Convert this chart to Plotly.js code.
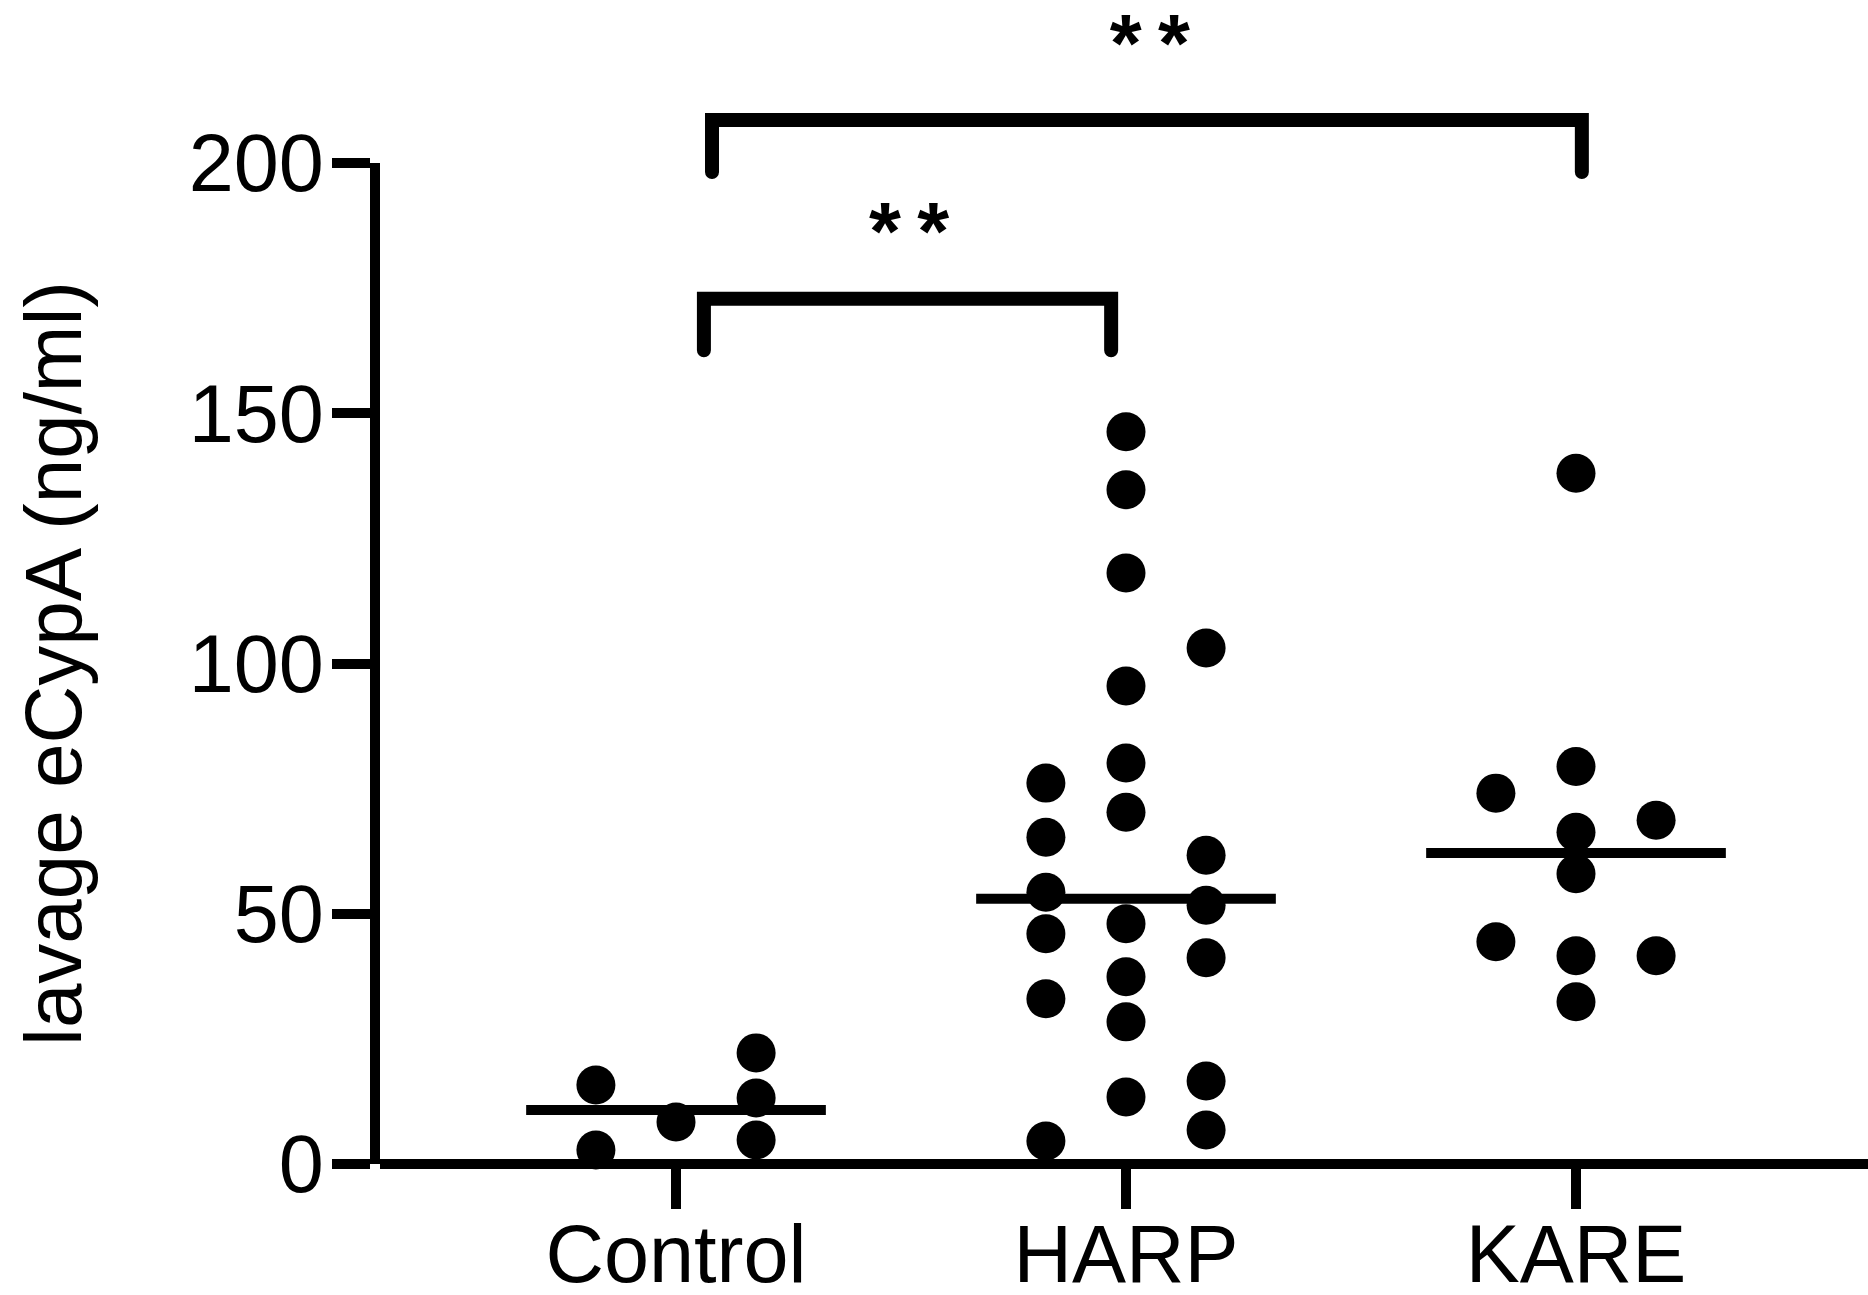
<!DOCTYPE html>
<html>
<head>
<meta charset="utf-8">
<script src="https://cdn.plot.ly/plotly-3.0.1.min.js"></script>
<style>
  html, body { margin: 0; padding: 0; background: #fff; }
  #chart { width: 1868px; height: 1295px; }
  .subplot.xy2 .scatterlayer .js-line { stroke-linecap: round; stroke-linejoin: miter; }
</style>
</head>
<body>
<div id="chart"></div>
<script>
// ---------------- data ----------------
const categories = ['Control', 'HARP', 'KARE'];

const controlValues = [15.8, 2.8, 8.4, 22.2, 13.2, 4.8];
const harpValues = [76.1, 65.3, 54.3, 46.0, 33.0, 4.6,
                    146.3, 134.7, 118.1, 95.5, 80.1, 70.3, 48.0, 37.4, 28.4, 13.4,
                    103.1, 61.7, 51.7, 41.2, 16.6, 6.8];
const kareValues = [74.1, 44.4, 138.0, 79.4, 66.3, 58.0, 41.6, 32.4, 68.7, 41.6];

// beeswarm column of each point (-1 left, 0 centre, 1 right)
const controlColumn = [-1, -1, 0, 1, 1, 1];
const harpColumn = [-1, -1, -1, -1, -1, -1, 0, 0, 0, 0, 0, 0, 0, 0, 0, 0, 1, 1, 1, 1, 1, 1];
const kareColumn = [-1, -1, 0, 0, 0, 0, 0, 0, 1, 1];

const yTickValues = [0, 50, 100, 150, 200];
const yTickLabels = ['0', '50', '100', '150', '200'];

// significance comparisons (group index pairs)
const comparisonFrom = [0, 0];
const comparisonTo = [1, 2];
const comparisonLabels = ['*\u2009*', '*\u2009*'];

// ---------------- layout / style constants ----------------
const FONT = 'Liberation Sans, Arial, sans-serif';
const COLUMN_STEP = 0.178;   // horizontal spacing of swarm columns (x units)
const MEDIAN_HALF = 0.333;   // half width of median bar
// bracket geometry per comparison
const bracketGeom = [
  {dl: 0.062, dr: -0.033, top: 172.9, bottom: 162.6, labelY: 185.0, labelX: 0.518},
  {dl: 0.080, dr: 0.013, top: 208.6, bottom: 198.2, labelY: 222.4, labelX: 1.053}
];

function median(a) {
  const s = a.slice().sort((p, q) => p - q);
  const n = s.length;
  return n % 2 ? s[(n - 1) / 2] : (s[n / 2 - 1] + s[n / 2]) / 2;
}

const groups = [
  {values: controlValues, column: controlColumn},
  {values: harpValues, column: harpColumn},
  {values: kareValues, column: kareColumn}
];

const traces = [];
groups.forEach((g, i) => {
  traces.push({
    type: 'scatter', mode: 'markers',
    x: g.column.map(c => i + c * COLUMN_STEP),
    y: g.values,
    marker: {size: 39, color: '#000', line: {width: 0}},
    cliponaxis: false, showlegend: false, hoverinfo: 'skip',
    xaxis: 'x', yaxis: 'y'
  });
});
groups.forEach((g, i) => {
  const m = median(g.values);
  traces.push({
    type: 'scatter', mode: 'lines',
    x: [i - MEDIAN_HALF, i + MEDIAN_HALF],
    y: [m, m],
    line: {color: '#000', width: 10},
    cliponaxis: false, showlegend: false, hoverinfo: 'skip',
    xaxis: 'x', yaxis: 'y'
  });
});
comparisonFrom.forEach((a, k) => {
  const b = comparisonTo[k];
  const g = bracketGeom[k];
  traces.push({
    type: 'scatter', mode: 'lines',
    x: [a + g.dl, a + g.dl, b + g.dr, b + g.dr],
    y: [g.bottom, g.top, g.top, g.bottom],
    line: {color: '#000', width: 14},
    cliponaxis: false, showlegend: false, hoverinfo: 'skip',
    xaxis: 'x', yaxis: 'y2'
  });
  traces.push({
    type: 'scatter', mode: 'text',
    x: [g.labelX], y: [g.labelY],
    text: [comparisonLabels[k]],
    textposition: 'middle center',
    textfont: {family: FONT, size: 82, color: '#000', weight: 'bold'},
    cliponaxis: false, showlegend: false, hoverinfo: 'skip',
    xaxis: 'x', yaxis: 'y2'
  });
});

const H = 1295;
const Y0PX = 1164, Y200PX = 163;
const pxPerUnit = (Y0PX - Y200PX) / 200;

const layout = {
  width: 1868, height: 1295,
  margin: {l: 380, r: 0, t: 0, b: 0, pad: 0},
  paper_bgcolor: '#fff', plot_bgcolor: 'rgba(0,0,0,0)',
  font: {family: FONT, color: '#000', size: 81},
  showlegend: false,
  xaxis: {
    range: [-0.6578, 2.6489],
    anchor: 'free', position: (H - Y0PX) / H,
    tickmode: 'array', tickvals: [0, 1, 2], ticktext: categories,
    showline: true, linecolor: '#000', linewidth: 10,
    ticks: 'outside', ticklen: 40, tickwidth: 10, tickcolor: '#000',
    ticklabelstandoff: -24,
    tickfont: {family: FONT, size: 81, color: '#000'},
    showgrid: false, zeroline: false, fixedrange: true
  },
  yaxis: {
    domain: [(H - Y0PX) / H, (H - Y200PX) / H],
    range: [0, 200],
    anchor: 'x',
    tickmode: 'array', tickvals: yTickValues, ticktext: yTickLabels,
    showline: true, linecolor: '#000', linewidth: 10,
    ticks: 'outside', ticklen: 38, tickwidth: 10, tickcolor: '#000',
    ticklabelstandoff: -8,
    tickfont: {family: FONT, size: 81, color: '#000'},
    showgrid: false, zeroline: false, fixedrange: true,
    title: {text: 'lavage eCypA (ng/ml)', font: {family: FONT, size: 80, color: '#000'}, standoff: 85}
  },
  yaxis2: {
    domain: [0, 1],
    range: [-(H - Y0PX) / pxPerUnit, 200 + Y200PX / pxPerUnit],
    anchor: 'free', position: 0,
    visible: false, fixedrange: true
  }
};

Plotly.newPlot('chart', traces, layout, {displayModeBar: false, staticPlot: true});
</script>
</body>
</html>
